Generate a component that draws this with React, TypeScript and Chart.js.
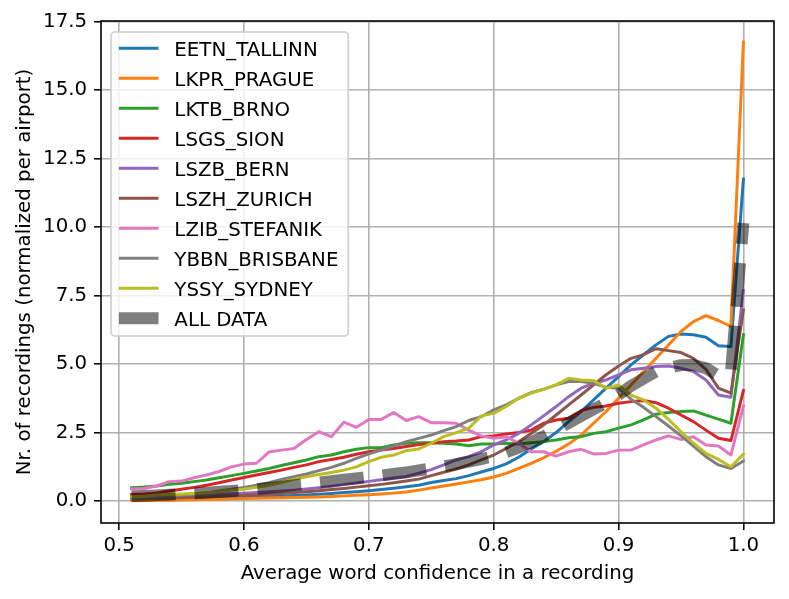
import React, { useEffect, useRef } from 'react';
import { Chart, registerables } from 'chart.js';

Chart.register(...registerables);

const FONT = '"DejaVu Sans", "Liberation Sans", sans-serif';
const FS = 19.8;

const confidence = [
  0.51, 0.52, 0.53, 0.54, 0.55, 0.56, 0.57, 0.58, 0.59, 0.6,
  0.61, 0.62, 0.63, 0.64, 0.65, 0.66, 0.67, 0.68, 0.69, 0.7,
  0.71, 0.72, 0.73, 0.74, 0.75, 0.76, 0.77, 0.78, 0.79, 0.8,
  0.81, 0.82, 0.83, 0.84, 0.85, 0.86, 0.87, 0.88, 0.89, 0.9,
  0.91, 0.92, 0.93, 0.94, 0.95, 0.96, 0.97, 0.98, 0.99, 1.0,
];

const seriesNames = [
  'EETN_TALLINN', 'LKPR_PRAGUE', 'LKTB_BRNO', 'LSGS_SION', 'LSZB_BERN',
  'LSZH_ZURICH', 'LZIB_STEFANIK', 'YBBN_BRISBANE', 'YSSY_SYDNEY', 'ALL DATA',
];

const seriesColors = [
  '#1f77b4', '#ff7f0e', '#2ca02c', '#d62728', '#9467bd',
  '#8c564b', '#e377c2', '#7f7f7f', '#bcbd22', 'rgba(0,0,0,0.5)',
];

const eetnTallinn = [
  0.05, 0.06, 0.06, 0.07, 0.08, 0.09, 0.10, 0.11, 0.12, 0.13,
  0.15, 0.16, 0.18, 0.20, 0.22, 0.25, 0.28, 0.31, 0.34, 0.38,
  0.42, 0.47, 0.52, 0.58, 0.68, 0.75, 0.82, 0.93, 1.06, 1.19,
  1.36, 1.60, 1.90, 2.17, 2.50, 2.90, 3.27, 3.69, 4.12, 4.54,
  4.97, 5.34, 5.70, 6.01, 6.10, 6.07, 5.98, 5.67, 5.64, 11.75,
];

const lkprPrague = [
  0.02, 0.02, 0.03, 0.03, 0.04, 0.05, 0.06, 0.07, 0.08, 0.09,
  0.10, 0.11, 0.12, 0.13, 0.14, 0.15, 0.17, 0.19, 0.21, 0.23,
  0.26, 0.29, 0.33, 0.40, 0.48, 0.55, 0.62, 0.70, 0.78, 0.88,
  1.01, 1.19, 1.38, 1.58, 1.82, 2.08, 2.41, 2.84, 3.27, 3.75,
  4.24, 4.73, 5.21, 5.70, 6.19, 6.55, 6.77, 6.59, 6.37, 16.75,
];

const lktbBrno = [
  0.49, 0.51, 0.55, 0.61, 0.65, 0.71, 0.77, 0.85, 0.93, 1.01,
  1.10, 1.19, 1.30, 1.40, 1.50, 1.62, 1.68, 1.80, 1.89, 1.95,
  1.95, 2.05, 2.11, 2.13, 2.13, 2.11, 2.08, 2.02, 2.08, 2.08,
  2.11, 2.08, 2.13, 2.17, 2.23, 2.31, 2.35, 2.47, 2.53, 2.66,
  2.78, 2.96, 3.17, 3.23, 3.27, 3.29, 3.14, 2.99, 2.84, 6.07,
];

const lsgsSion = [
  0.24, 0.26, 0.30, 0.37, 0.43, 0.50, 0.58, 0.67, 0.77, 0.86,
  0.95, 1.04, 1.13, 1.23, 1.32, 1.44, 1.52, 1.60, 1.71, 1.80,
  1.86, 1.92, 1.99, 2.06, 2.11, 2.17, 2.19, 2.23, 2.35, 2.38,
  2.45, 2.50, 2.59, 2.84, 2.96, 3.02, 3.30, 3.42, 3.47, 3.57,
  3.63, 3.67, 3.59, 3.39, 3.14, 2.90, 2.59, 2.29, 2.21, 4.03,
];

const lszbBern = [
  0.15, 0.16, 0.17, 0.18, 0.19, 0.21, 0.23, 0.25, 0.27, 0.29,
  0.31, 0.34, 0.37, 0.40, 0.44, 0.49, 0.54, 0.60, 0.66, 0.72,
  0.78, 0.84, 0.90, 1.02, 1.15, 1.32, 1.50, 1.62, 1.80, 2.05,
  2.23, 2.47, 2.78, 3.11, 3.45, 3.81, 4.12, 4.30, 4.42, 4.61,
  4.79, 4.85, 4.91, 4.93, 4.85, 4.73, 4.42, 3.87, 3.79, 7.68,
];

const lszhZurich = [
  0.08, 0.09, 0.10, 0.11, 0.12, 0.14, 0.15, 0.17, 0.19, 0.21,
  0.23, 0.25, 0.28, 0.31, 0.34, 0.38, 0.42, 0.46, 0.51, 0.56,
  0.61, 0.67, 0.73, 0.80, 0.93, 1.05, 1.17, 1.32, 1.50, 1.68,
  1.92, 2.17, 2.47, 2.78, 3.14, 3.51, 3.87, 4.24, 4.61, 4.93,
  5.21, 5.34, 5.56, 5.49, 5.42, 5.21, 4.81, 4.12, 3.94, 6.98,
];

const lzibStefanik = [
  0.44, 0.46, 0.55, 0.71, 0.73, 0.85, 0.95, 1.08, 1.25, 1.35,
  1.38, 1.79, 1.86, 1.92, 2.25, 2.53, 2.35, 2.88, 2.69, 2.98,
  2.98, 3.23, 2.94, 3.08, 2.86, 2.86, 2.84, 2.59, 2.38, 2.29,
  2.35, 2.11, 1.80, 1.80, 1.64, 1.80, 1.89, 1.72, 1.74, 1.86,
  1.86, 2.05, 2.23, 2.38, 2.25, 2.35, 2.05, 2.01, 1.68, 3.47,
];

const ybbnBrisbane = [
  0.10, 0.13, 0.16, 0.19, 0.22, 0.26, 0.30, 0.37, 0.43, 0.50,
  0.58, 0.67, 0.79, 0.89, 0.99, 1.11, 1.23, 1.38, 1.56, 1.72,
  1.86, 2.01, 2.17, 2.29, 2.41, 2.57, 2.72, 2.94, 3.08, 3.33,
  3.51, 3.75, 3.96, 4.08, 4.24, 4.36, 4.36, 4.30, 4.15, 4.12,
  3.72, 3.42, 3.08, 2.74, 2.38, 2.01, 1.62, 1.32, 1.19, 1.46,
];

const yssySydney = [
  0.16, 0.18, 0.22, 0.24, 0.26, 0.28, 0.30, 0.34, 0.40, 0.43,
  0.50, 0.58, 0.68, 0.79, 0.89, 0.97, 1.04, 1.13, 1.25, 1.44,
  1.60, 1.68, 1.84, 1.90, 2.11, 2.35, 2.50, 2.66, 3.11, 3.20,
  3.45, 3.75, 3.94, 4.08, 4.24, 4.48, 4.42, 4.40, 4.12, 4.24,
  3.87, 3.69, 3.39, 2.98, 2.53, 2.11, 1.74, 1.52, 1.25, 1.71,
];

const allData = [
  0.17, 0.19, 0.21, 0.23, 0.26, 0.28, 0.31, 0.34, 0.37, 0.40,
  0.44, 0.48, 0.53, 0.58, 0.63, 0.68, 0.73, 0.78, 0.83, 0.88,
  0.93, 0.99, 1.05, 1.12, 1.19, 1.27, 1.35, 1.44, 1.53, 1.64,
  1.78, 1.95, 2.15, 2.36, 2.60, 2.85, 3.10, 3.35, 3.58, 3.88,
  4.20, 4.47, 4.72, 4.86, 4.96, 4.97, 4.85, 4.57, 4.70, 10.15,
];

const seriesValues = [
  eetnTallinn, lkprPrague, lktbBrno, lsgsSion, lszbBern,
  lszhZurich, lzibStefanik, ybbnBrisbane, yssySydney, allData,
];

const xTickValues = [0.5, 0.6, 0.7, 0.8, 0.9, 1.0];
const yTickValues = [0, 2.5, 5, 7.5, 10, 12.5, 15, 17.5];

const xTitle = 'Average word confidence in a recording';
const yTitle = 'Nr. of recordings (normalized per airport)';

const framePlugin = {
  id: 'mplFrame',
  afterDatasetsDraw(chart: any) {
    const { ctx, chartArea } = chart;
    ctx.save();
    ctx.strokeStyle = '#000';
    ctx.lineWidth = 1.58;
    ctx.strokeRect(chartArea.left, chartArea.top, chartArea.right - chartArea.left, chartArea.bottom - chartArea.top);
    ctx.restore();
  },
};

const legendPlugin = {
  id: 'mplLegend',
  afterDraw(chart: any) {
    const { ctx, chartArea } = chart;
    const ds = chart.data.datasets;
    ctx.save();
    ctx.font = `${FS}px ${FONT}`;
    const pad = 0.4 * FS;
    const handleLen = 2 * FS;
    const textPad = 0.8 * FS;
    const rowH = 30;
    let maxW = 0;
    ds.forEach((d: any) => { maxW = Math.max(maxW, ctx.measureText(d.label).width); });
    const x0 = chartArea.left + 10;
    const y0 = chartArea.top + 11;
    const w = pad + handleLen + textPad + maxW + pad + 2;
    const firstRow = 16.3;
    const h = firstRow + (ds.length - 1) * rowH + 17.7;
    const r = 0.2 * FS;
    ctx.beginPath();
    ctx.moveTo(x0 + r, y0);
    ctx.lineTo(x0 + w - r, y0);
    ctx.arcTo(x0 + w, y0, x0 + w, y0 + r, r);
    ctx.lineTo(x0 + w, y0 + h - r);
    ctx.arcTo(x0 + w, y0 + h, x0 + w - r, y0 + h, r);
    ctx.lineTo(x0 + r, y0 + h);
    ctx.arcTo(x0, y0 + h, x0, y0 + h - r, r);
    ctx.lineTo(x0, y0 + r);
    ctx.arcTo(x0, y0, x0 + r, y0, r);
    ctx.closePath();
    ctx.fillStyle = 'rgba(255,255,255,0.8)';
    ctx.fill();
    ctx.strokeStyle = 'rgba(204,204,204,0.8)';
    ctx.lineWidth = 1.98;
    ctx.stroke();

    ds.forEach((d: any, i: number) => {
      const cy = y0 + firstRow + i * rowH;
      const hx = x0 + pad;
      ctx.beginPath();
      ctx.moveTo(hx, cy);
      ctx.lineTo(hx + handleLen, cy);
      ctx.strokeStyle = d.borderColor;
      ctx.lineWidth = d.borderWidth;
      ctx.lineCap = 'butt';
      ctx.setLineDash([]);
      ctx.stroke();
      ctx.fillStyle = '#000';
      ctx.textAlign = 'left';
      ctx.textBaseline = 'alphabetic';
      ctx.fillText(d.label, hx + handleLen + textPad, cy + 7.2);
    });
    ctx.restore();
  },
};

export default function App() {
  const canvasRef = useRef<HTMLCanvasElement | null>(null);

  useEffect(() => {
    document.body.style.margin = '0';
    const canvas = canvasRef.current;
    if (!canvas) return;
    const n = seriesNames.length;
    const datasets = seriesNames.map((name, i) => {
      const isAll = i === n - 1;
      return {
        label: name,
        data: confidence.map((x, j) => ({ x, y: seriesValues[i][j] })),
        borderColor: seriesColors[i],
        backgroundColor: seriesColors[i],
        borderWidth: isAll ? 11.9 : 2.97,
        borderDash: isAll ? [44, 19] : [],
        borderCapStyle: isAll ? 'butt' : 'square',
        borderJoinStyle: 'round',
        pointRadius: 0,
        pointHoverRadius: 0,
        tension: 0,
        fill: false,
        order: -i,
      };
    });

    const chart = new Chart(canvas, {
      type: 'line',
      data: { datasets } as any,
      plugins: [framePlugin, legendPlugin],
      options: {
        animation: false,
        responsive: false,
        devicePixelRatio: 1,
        events: [],
        layout: { padding: { left: 0, top: 21, right: 15, bottom: 0 } },
        plugins: {
          legend: { display: false },
          tooltip: { enabled: false },
        },
        scales: {
          x: {
            type: 'linear',
            min: 0.4855,
            max: 1.0245,
            afterBuildTicks: (scale: any) => {
              scale.ticks = xTickValues.map((v) => ({ value: v }));
            },
            afterFit: (scale: any) => { scale.height = 76; },
            ticks: {
              color: '#000',
              font: { family: FONT, size: FS, lineHeight: 1.2 },
              padding: 4,
              maxRotation: 0,
              autoSkip: false,
              callback: (v: any) => Number(v).toFixed(1),
            },
            grid: {
              color: '#b0b0b0',
              lineWidth: 1.58,
              drawTicks: true,
              tickLength: 6.9,
              tickColor: '#000',
              tickWidth: 1.58,
            },
            border: { display: false },
            title: {
              display: true,
              text: xTitle,
              color: '#000',
              font: { family: FONT, size: FS, lineHeight: 1.2 },
              padding: { top: 0, bottom: 13 },
            },
          },
          y: {
            type: 'linear',
            min: -0.8,
            max: 17.52,
            afterBuildTicks: (scale: any) => {
              scale.ticks = yTickValues.map((v) => ({ value: v }));
            },
            afterFit: (scale: any) => { scale.width = 101; },
            ticks: {
              color: '#000',
              font: { family: FONT, size: FS, lineHeight: 1.2 },
              padding: 7,
              autoSkip: false,
              callback: (v: any) => Number(v).toFixed(1),
            },
            grid: {
              color: '#b0b0b0',
              lineWidth: 1.58,
              drawTicks: true,
              tickLength: 6.9,
              tickColor: '#000',
              tickWidth: 1.58,
            },
            border: { display: false },
            title: {
              display: true,
              text: yTitle,
              color: '#000',
              font: { family: FONT, size: FS, lineHeight: 1.2 },
              padding: { top: 12.7, bottom: 0 },
            },
          },
        },
      } as any,
    });
    return () => chart.destroy();
  }, []);

  return (
    <div style={{ position: 'absolute', left: 0, top: 0, width: 789, height: 599 }}>
      <canvas ref={canvasRef} width={789} height={599} style={{ width: 789, height: 599, display: 'block' }} />
    </div>
  );
}
